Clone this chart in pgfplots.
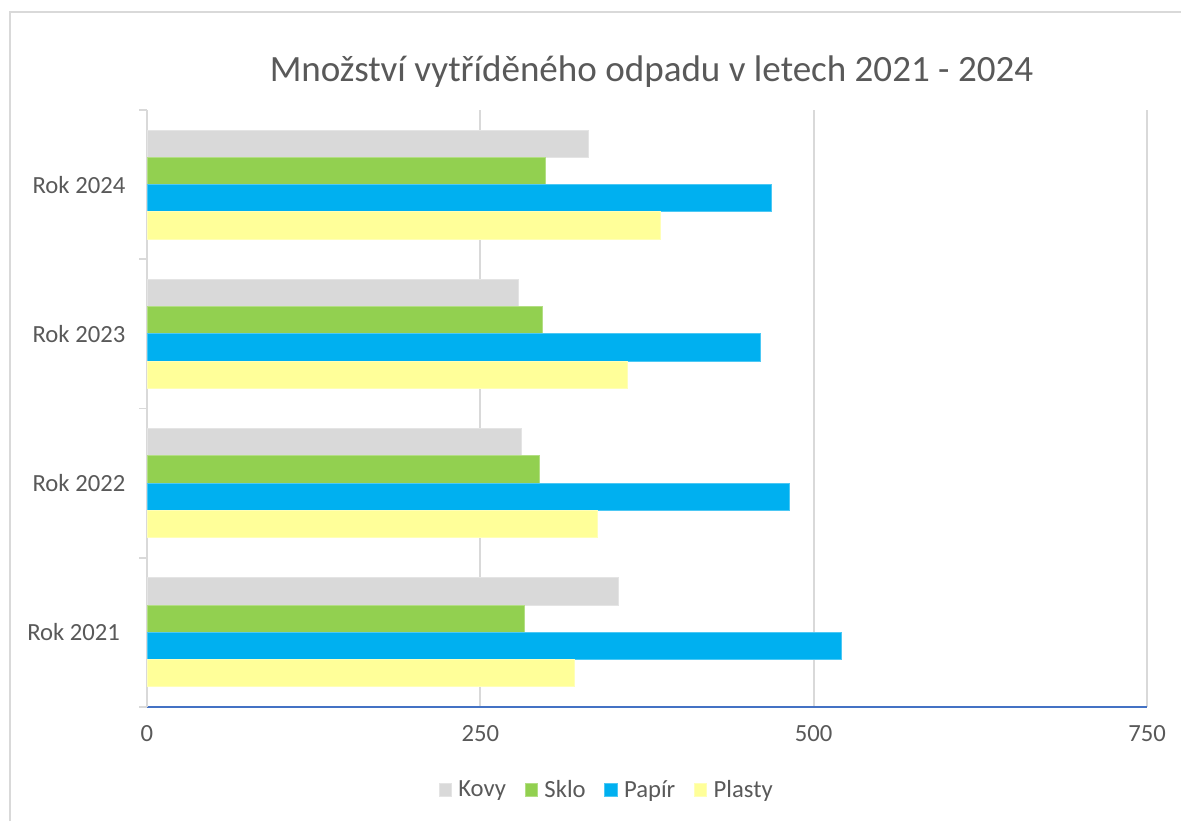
\documentclass[border=0pt]{standalone}
\usepackage{pgfplots}
\pgfplotsset{compat=1.18}
\usepackage{fontspec}
\setmainfont{Carlito}
\definecolor{txt}{HTML}{595959}
\definecolor{gridc}{HTML}{D9D9D9}
\definecolor{kovy}{HTML}{D9D9D9}
\definecolor{sklo}{HTML}{92D050}
\definecolor{papir}{HTML}{00B0F0}
\definecolor{plasty}{HTML}{FFFF99}
\definecolor{axblue}{HTML}{4472C4}
\pgfplotsset{sq/.style={legend image code/.code={\fill[##1] (0pt,-4.6pt) rectangle (9.2pt,4.6pt);}}}
\begin{document}
\begin{tikzpicture}
\def\u{0.75pt}
\path[use as bounding box] (0,0) rectangle ({1181*\u},{-821*\u});
\draw[gridc, line width={2*\u}] ({10*\u},{-821*\u}) -- ({10*\u},{-12*\u}) -- ({1181*\u},{-12*\u});
\node[text=txt, font=\fontsize{27.8}{32}\selectfont] at ({651.5*\u},{-72*\u}) {Množství vytříděného odpadu v letech 2021 - 2024};
\begin{axis}[
  at={({147*\u},{-707*\u})}, anchor=south west,
  scale only axis, width={1000*\u}, height={597*\u},
  xbar, bar width=0.1826,
  xmin=0, xmax=750, ymin=-0.5, ymax=3.5,
  enlargelimits=false,
  xtick={0,250,500,750},
  ytick={0,1,2,3}, yticklabels={{Rok 2021\kern4pt},Rok 2022,Rok 2023,Rok 2024},
  minor ytick={-0.5,0.5,1.5,2.5,3.5},
  axis x line*=bottom, axis y line*=left,
  x axis line style={draw=axblue, -, line width={1.2*\u}},
  y axis line style={draw=gridc, -, line width={1.8*\u}},
  xtick pos=bottom, ytick pos=left,
  tick align=outside,
  major tick length=0pt,
  minor tick length={8*\u},
  minor y tick style={draw=gridc, line width={1.8*\u}},
  xmajorgrids, major grid style={draw=gridc, line width={2*\u}},
  /pgf/number format/assume math mode=true,
  tick label style={font=\fontsize{18.5}{22}\selectfont, text=txt},
  xticklabel style={yshift={-14*\u}},
  yticklabel style={xshift={-17*\u}},
  legend columns=4,
  legend style={at={(0.46,-0.139)}, anchor=center, draw=none, fill=none,
    font=\fontsize{18.5}{22}\selectfont, text=txt,
    /tikz/every odd column/.append style={column sep={4*\u}},
    /tikz/every even column/.append style={column sep={16*\u}}},
]
\addplot[sq, fill=kovy, draw=kovy!70!white, line width=0.6pt, bar shift=0.2739] coordinates {(353.3,0) (281,1) (278.3,2) (331,3)};
\addlegendentry{Kovy}
\addplot[sq, fill=sklo, draw=sklo!70!white, line width=0.6pt, bar shift=0.0913] coordinates {(283,0) (294,1) (296.5,2) (298.5,3)};
\addlegendentry{Sklo}
\addplot[sq, fill=papir, draw=papir!70!white, line width=0.6pt, bar shift=-0.0913] coordinates {(520.5,0) (482,1) (460,2) (468.5,3)};
\addlegendentry{Papír}
\addplot[sq, fill=plasty, draw=plasty!70!white, line width=0.6pt, bar shift=-0.2739] coordinates {(320.5,0) (337.7,1) (360,2) (384.8,3)};
\addlegendentry{Plasty}
\end{axis}
\end{tikzpicture}
\end{document}
